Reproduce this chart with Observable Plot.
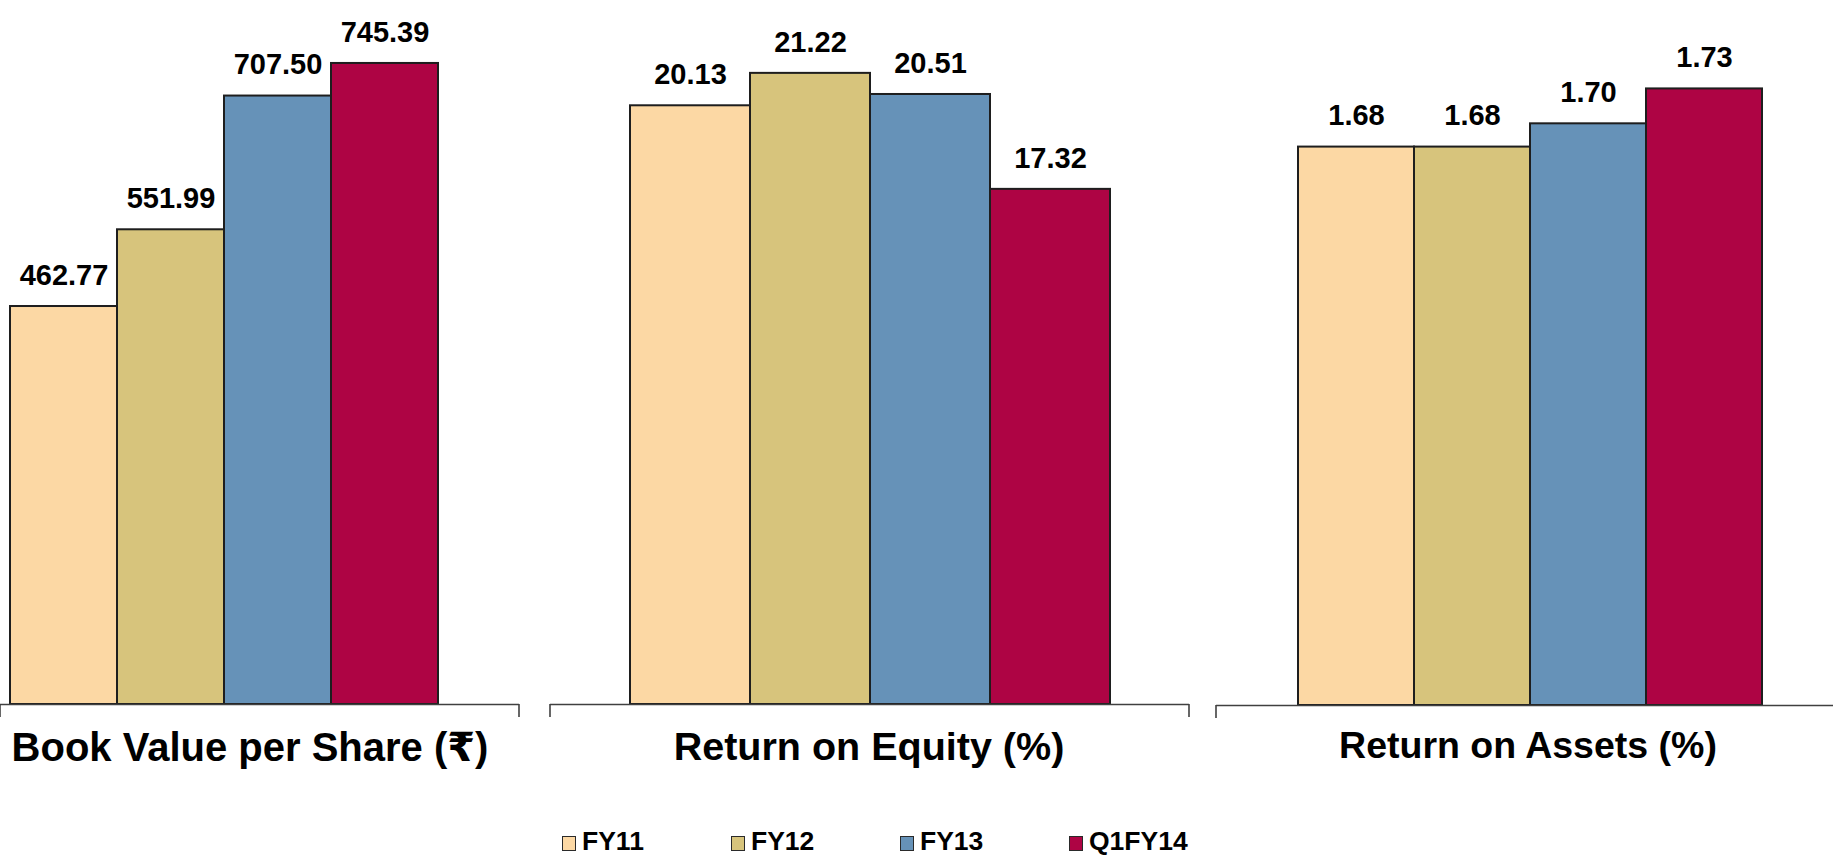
<!DOCTYPE html>
<html>
<head>
<meta charset="utf-8">
<script src="https://cdn.jsdelivr.net/npm/d3@7"></script>
<script src="https://cdn.jsdelivr.net/npm/@observablehq/plot@0.6"></script>
<style>
  html, body { margin: 0; padding: 0; background: #fff; overflow: hidden; }
  #root { position: relative; width: 1833px; height: 857px; overflow: hidden;
          font-family: "Liberation Sans", Arial, "DejaVu Sans", "Noto Sans", sans-serif; color: #000; }
  .panel { position: absolute; top: 0; }
  .title { position: absolute; top: 727px; font-weight: bold; white-space: nowrap;
           transform: translateX(-50%); line-height: 1; }
  .legend { position: absolute; left: 562px; top: 829px; display: flex; }
  .item { width: 169px; display: flex; align-items: flex-start; font-weight: bold;
          font-size: 26.5px; line-height: 24px; }
  .sw { width: 12px; height: 13px; border: 1.5px solid #2a2a2a; margin-top: 7px; margin-right: 6px; flex: none; }
</style>
</head>
<body>
<div id="root"></div>
<script>
// ---- data ----
const categories = ["FY11", "FY12", "FY13", "Q1FY14"];
const bookValue = [462.77, 551.99, 707.50, 745.39];
const returnOnEquity = [20.13, 21.22, 20.51, 17.32];
const returnOnAssets = [1.68, 1.68, 1.70, 1.73];
const titles = ["Book Value per Share (₹)", "Return on Equity (%)", "Return on Assets (%)"];
const colors = ["#FCD8A4", "#D7C47C", "#6692B8", "#AE0444"];

// ---- layout ----
const H = 720;
const panels = [
  {values: bookValue, title: titles[0], left: 0, width: 525, axis: [0, 519], po: 0.4045, align: 0.107,
   domain: [0, 818.6], base: 704, titleX: 250, titleSize: 40},
  {values: returnOnEquity, title: titles[1], left: 545, width: 650, axis: [550, 1189], po: 0.65, align: 0.5,
   domain: [0, 23.67], base: 704, titleX: 869, titleSize: 39.5},
  {values: returnOnAssets, title: titles[2], left: 1211, width: 640, axis: [1216, 1840], po: 0.684, align: 0.51,
   domain: [1.2, 1.806], base: 705, titleX: 1528, titleSize: 37.5}
];

const root = document.getElementById("root");
const fmt = d3.format(".2f");

panels.forEach(p => {
  const data = categories.map((c, i) => ({category: c, value: p.values[i]}));
  const marginLeft = p.axis[0] - p.left;
  const marginRight = p.width - (p.axis[1] - p.left);
  const plot = Plot.plot({
    width: p.width,
    height: H,
    marginLeft, marginRight,
    marginTop: 0,
    marginBottom: H - p.base,
    style: {fontFamily: "'Liberation Sans', Arial, sans-serif", background: "transparent", overflow: "visible"},
    x: {type: "band", domain: categories, paddingInner: 0, paddingOuter: p.po, align: p.align, axis: null},
    y: {domain: p.domain, axis: null},
    color: {domain: categories, range: colors},
    marks: [
      Plot.barY(data, {x: "category", y1: p.domain[0], y2: "value", fill: "category",
                       stroke: "#1e1e1e", strokeWidth: 2}),
      Plot.ruleY([p.domain[0]], {stroke: "#404040", strokeWidth: 1.6}),
      Plot.text(data, {x: "category", y: "value", text: d => fmt(d.value), dy: -31,
                       fontSize: 29, fontWeight: "bold", fill: "#000"})
    ]
  });
  // end ticks of the category axis line
  const svg = d3.select(plot);
  [marginLeft, p.width - marginRight].forEach(x => {
    svg.append("line").attr("x1", x).attr("x2", x).attr("y1", p.base).attr("y2", p.base + 13)
      .attr("stroke", "#404040").attr("stroke-width", 1.6);
  });
  plot.classList.add("panel");
  plot.style.left = p.left + "px";
  root.appendChild(plot);

  const t = document.createElement("div");
  t.className = "title";
  t.textContent = p.title;
  t.style.left = p.titleX + "px";
  t.style.fontSize = p.titleSize + "px";
  root.appendChild(t);
});

// legend
const legend = document.createElement("div");
legend.className = "legend";
categories.forEach((c, i) => {
  const item = document.createElement("div");
  item.className = "item";
  const sw = document.createElement("span");
  sw.className = "sw";
  sw.style.background = colors[i];
  const label = document.createElement("span");
  label.textContent = c;
  item.appendChild(sw);
  item.appendChild(label);
  legend.appendChild(item);
});
root.appendChild(legend);
</script>
</body>
</html>
